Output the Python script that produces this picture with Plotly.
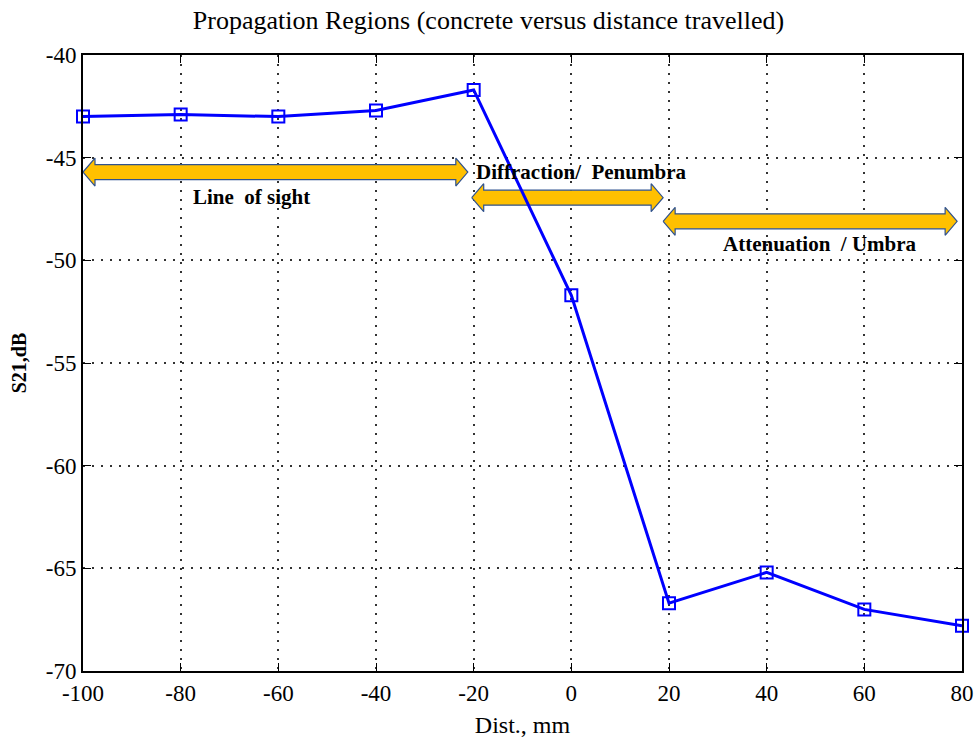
import plotly.graph_objects as go

# Data
dist_mm = [-100, -80, -60, -40, -20, 0, 20, 40, 60, 80]
s21_db = [-43.0, -42.9, -43.0, -42.7, -41.7, -51.7, -66.7, -65.2, -67.0, -67.8]

x_ticks = [-100, -80, -60, -40, -20, 0, 20, 40, 60, 80]
x_tick_labels = ["-100", "-80", "-60", "-40", "-20", "0", "20", "40", "60", "80"]
y_ticks = [-70, -65, -60, -55, -50, -45, -40]
y_tick_labels = ["-70", "-65", "-60", "-55", "-50", "-45", "-40"]

# Region arrows (start, end, y) and labels (x, y)
region_names = ["Line  of sight", "Diffraction/  Penumbra", "Attenuation  / Umbra"]
region_start = [-100, -20.4, 18.8]
region_end = [-21.2, 18.8, 79]
region_y = [-45.7, -46.95, -48.1]
label_x = [-65.5, 2.0, 51.0]
label_y = [-46.9, -45.7, -49.2]

W, H = 977, 749
ML, MR, MT, MB = 83, 15, 55, 78
XR = [-100, 80]
YR = [-70, -40]
px_x = (W - ML - MR) / (XR[1] - XR[0])
px_y = (H - MT - MB) / (YR[1] - YR[0])

fig = go.Figure()

# block arrows
head_len = 12 / px_x
head_h = 14 / px_y
body_h = 7.5 / px_y
for x0, x1, yc in zip(region_start, region_end, region_y):
    xs = [x0, x0 + head_len, x0 + head_len, x1 - head_len, x1 - head_len, x1,
          x1 - head_len, x1 - head_len, x0 + head_len, x0 + head_len, x0]
    ys = [yc, yc + head_h, yc + body_h, yc + body_h, yc + head_h, yc,
          yc - head_h, yc - body_h, yc - body_h, yc - head_h, yc]
    fig.add_trace(go.Scatter(x=xs, y=ys, mode="lines", fill="toself",
                             fillcolor="#FFC000",
                             line=dict(color="#2F528F", width=1.2),
                             hoverinfo="skip", showlegend=False))

fig.add_trace(go.Scatter(
    x=dist_mm, y=s21_db, mode="lines+markers",
    line=dict(color="#0000FF", width=3),
    marker=dict(symbol="square-open", size=12, color="#0000FF",
                line=dict(width=2, color="#0000FF")),
    showlegend=False, cliponaxis=False))

for name, lx, ly in zip(region_names, label_x, label_y):
    fig.add_annotation(x=lx, y=ly, text="<b>" + name + "</b>", showarrow=False,
                       font=dict(family="Liberation Serif", size=21, color="black"),
                       xanchor="center", yanchor="middle")

fig.update_layout(
    width=W, height=H,
    margin=dict(l=ML, r=MR, t=MT, b=MB, autoexpand=False),
    paper_bgcolor="white", plot_bgcolor="white",
    title=dict(text="Propagation Regions (concrete versus distance travelled)",
               x=0.5, xanchor="center", y=0.973, yanchor="middle",
               font=dict(family="Liberation Serif", size=26, color="black")),
    font=dict(family="Liberation Serif", size=20, color="black"),
)
fig.update_xaxes(
    range=XR, tickmode="array", tickvals=x_ticks, ticktext=x_tick_labels,
    tickfont=dict(size=23),
    showgrid=True, gridcolor="#333333", griddash="2px,7px", gridwidth=1.5,
    ticks="inside", ticklen=8, tickcolor="black",
    showline=True, linecolor="black", linewidth=2, mirror="allticks",
    zeroline=False, automargin=False,
    title=dict(text="Dist., mm", font=dict(family="Liberation Serif", size=24), standoff=12),
)
fig.update_yaxes(
    range=YR, tickmode="array", tickvals=y_ticks, ticktext=y_tick_labels,
    tickfont=dict(size=23),
    showgrid=True, gridcolor="#333333", griddash="2px,7px", gridwidth=1.5,
    ticks="inside", ticklen=8, tickcolor="black",
    showline=True, linecolor="black", linewidth=2, mirror="allticks",
    zeroline=False, automargin=False,
    title=dict(text="<b>S21,dB</b>", font=dict(family="Liberation Serif", size=20), standoff=14),
)

fig.write_html("out.html")
